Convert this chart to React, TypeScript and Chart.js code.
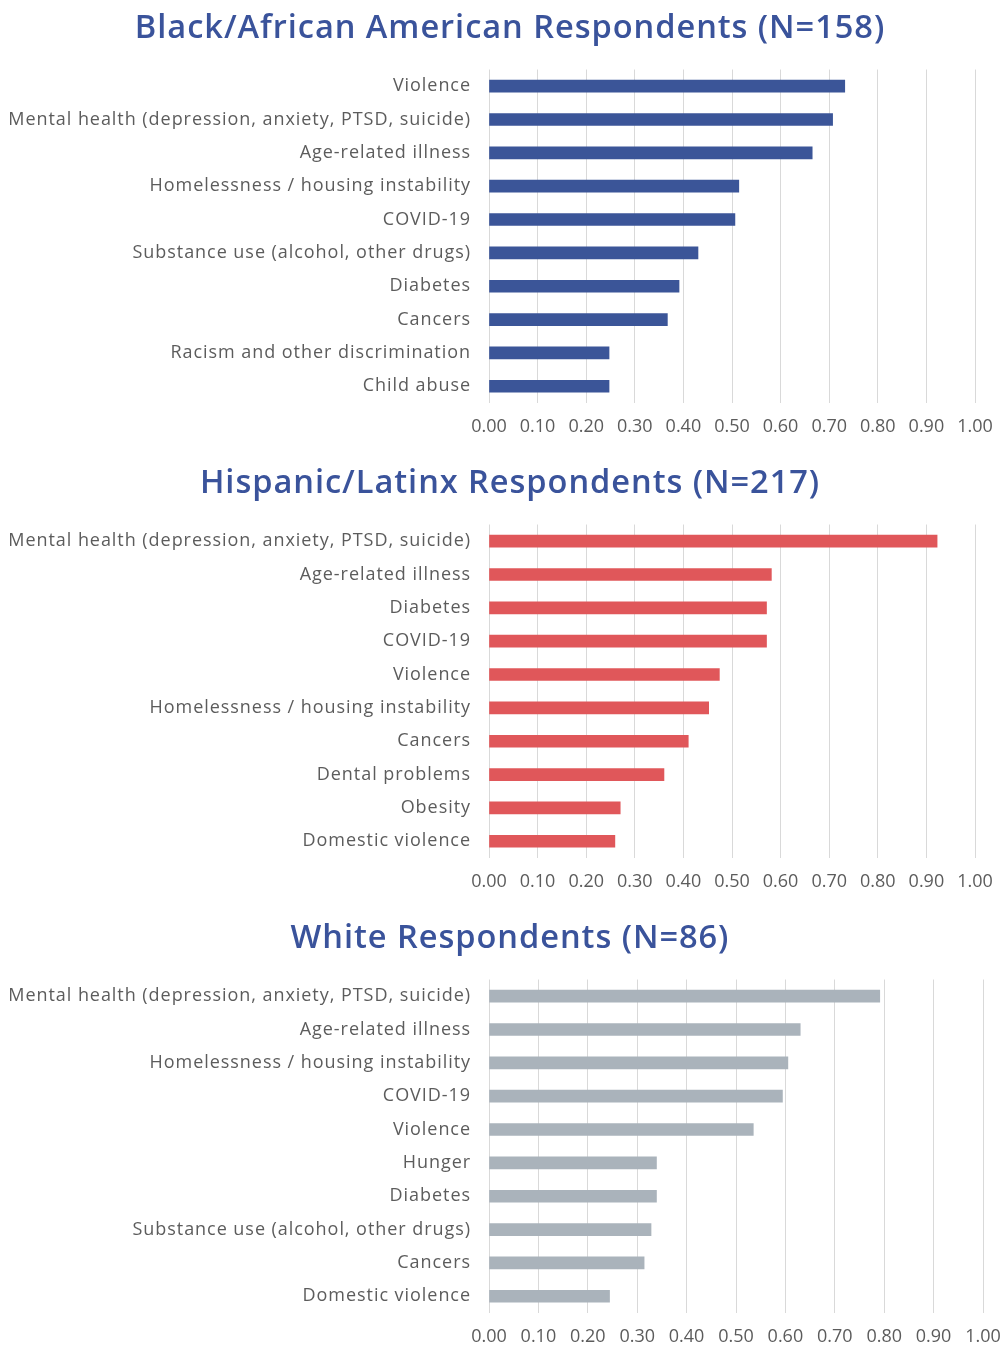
import React, { useEffect, useRef } from "react";
import { Chart, registerables } from "chart.js";

Chart.register(...registerables);

const blackTitle = "Black/African American Respondents (N=158)";
const blackCategories = [
  "Violence",
  "Mental health (depression, anxiety, PTSD, suicide)",
  "Age-related illness",
  "Homelessness / housing instability",
  "COVID-19",
  "Substance use (alcohol, other drugs)",
  "Diabetes",
  "Cancers",
  "Racism and other discrimination",
  "Child abuse",
];
const blackValues = [0.732, 0.707, 0.665, 0.514, 0.506, 0.43, 0.391, 0.367, 0.247, 0.247];

const hispanicTitle = "Hispanic/Latinx Respondents (N=217)";
const hispanicCategories = [
  "Mental health (depression, anxiety, PTSD, suicide)",
  "Age-related illness",
  "Diabetes",
  "COVID-19",
  "Violence",
  "Homelessness / housing instability",
  "Cancers",
  "Dental problems",
  "Obesity",
  "Domestic violence",
];
const hispanicValues = [0.922, 0.581, 0.571, 0.571, 0.474, 0.452, 0.41, 0.36, 0.27, 0.259];

const whiteTitle = "White Respondents (N=86)";
const whiteCategories = [
  "Mental health (depression, anxiety, PTSD, suicide)",
  "Age-related illness",
  "Homelessness / housing instability",
  "COVID-19",
  "Violence",
  "Hunger",
  "Diabetes",
  "Substance use (alcohol, other drugs)",
  "Cancers",
  "Domestic violence",
];
const whiteValues = [0.791, 0.63, 0.605, 0.594, 0.535, 0.339, 0.339, 0.328, 0.314, 0.244];

const xMin = 0;
const xMax = 1;
const xStep = 0.1;

const FONT = "'Open Sans', 'DejaVu Sans', sans-serif";
const LABEL_COLOR = "#5c5c5c";
const TITLE_COLOR = "#3A539B";
const GRID_COLOR = "#D9D9D9";

const CANVAS_W = 1020;
const CANVAS_H = 455;
const PLOT_LEFT = 489;
const SPACING = "0.95px";

const spacingPlugin = {
  id: "letterSpacingPlugin",
  beforeDraw(chart: any) {
    (chart.ctx as any).letterSpacing = SPACING;
  },
  afterLayout(chart: any) {
    const xs = chart.scales && chart.scales.x;
    if (xs && !xs.__patched) {
      const orig = xs.drawLabels.bind(xs);
      xs.drawLabels = (area: any) => {
        const ctx: any = chart.ctx;
        ctx.letterSpacing = "0px";
        orig(area);
        ctx.letterSpacing = SPACING;
      };
      xs.__patched = true;
    }
    const ys = chart.scales && chart.scales.y;
    if (ys && !ys.__patched) {
      ys._computeLabelArea = () => undefined;
      ys.__patched = true;
    }
  },
};

type PanelProps = {
  title: string;
  labels: string[];
  values: number[];
  color: string;
  top: number;
  plotRight: number;
};

function Panel({ title, labels, values, color, top, plotRight }: PanelProps) {
  const ref = useRef<HTMLCanvasElement | null>(null);
  useEffect(() => {
    if (!ref.current) return;
    const side = CANVAS_W - plotRight;
    const chart = new Chart(ref.current, {
      type: "bar",
      data: {
        labels,
        datasets: [
          {
            data: values,
            backgroundColor: color,
            borderWidth: 0,
            barThickness: 12,
          },
        ],
      },
      plugins: [spacingPlugin],
      options: {
        indexAxis: "y",
        responsive: false,
        animation: false,
        layout: { padding: { left: side, right: side, top: 0, bottom: 4.5 } },
        plugins: {
          legend: { display: false },
          tooltip: { enabled: false },
          title: {
            display: true,
            text: title,
            color: TITLE_COLOR,
            font: { family: FONT, size: 32.6, weight: 600, lineHeight: 1.2 },
            padding: { top: 9, bottom: 21.4 },
          },
        },
        scales: {
          x: {
            min: xMin,
            max: xMax,
            ticks: {
              stepSize: xStep,
              color: LABEL_COLOR,
              font: { family: FONT, size: 18 },
              padding: 13,
              maxRotation: 0,
              autoSkip: false,
              callback: (v: any) => Number(v).toFixed(2),
            },
            grid: { color: GRID_COLOR, lineWidth: 1, drawTicks: false },
            border: { display: false },
          },
          y: {
            ticks: {
              color: LABEL_COLOR,
              font: { family: FONT, size: 18 },
              padding: 18,
              autoSkip: false,
            },
            grid: { display: false, drawTicks: false },
            border: { display: false },
            afterFit: (scale: any) => {
              scale.width = PLOT_LEFT - side;
            },
          },
        },
      },
    });
    return () => chart.destroy();
  }, [title, labels, values, color, plotRight]);
  return (
    <div style={{ position: "absolute", left: 0, top, width: CANVAS_W, height: CANVAS_H }}>
      <canvas ref={ref} width={CANVAS_W} height={CANVAS_H} />
    </div>
  );
}

export default function App() {
  return (
    <div
      style={{
        position: "absolute",
        left: 0,
        top: 0,
        width: 1002,
        height: 1346,
        overflow: "hidden",
        background: "#ffffff",
      }}
    >
      <Panel title={blackTitle} labels={blackCategories} values={blackValues} color="#3B5598" top={0} plotRight={975} />
      <Panel title={hispanicTitle} labels={hispanicCategories} values={hispanicValues} color="#E0575A" top={455} plotRight={975} />
      <Panel title={whiteTitle} labels={whiteCategories} values={whiteValues} color="#AAB3BB" top={910} plotRight={983} />
    </div>
  );
}
